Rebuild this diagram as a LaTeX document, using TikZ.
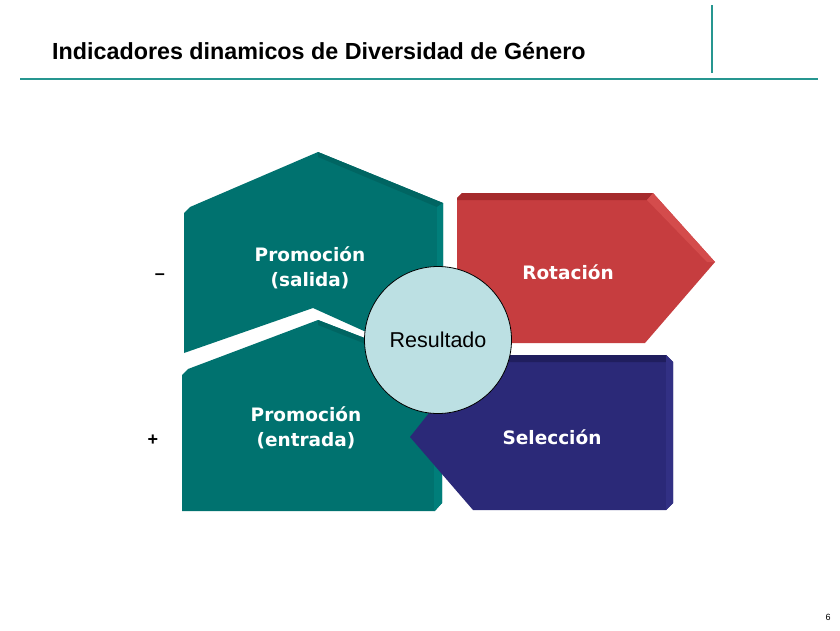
\documentclass[tikz,border=0pt]{standalone}
\usepackage{fontspec}
\setmainfont{Liberation Sans}
\newfontfamily\labfont{DejaVu Sans}
\definecolor{tealmain}{RGB}{0,114,111}
\definecolor{tealdark}{RGB}{0,101,98}
\definecolor{teallight}{RGB}{0,126,122}
\definecolor{redmain}{RGB}{198,61,63}
\definecolor{reddark}{RGB}{165,42,44}
\definecolor{redlight}{RGB}{212,76,76}
\definecolor{navymain}{RGB}{43,41,120}
\definecolor{navydark}{RGB}{32,30,94}
\definecolor{navylight}{RGB}{50,48,132}
\definecolor{circfill}{RGB}{188,224,227}
\definecolor{hdrline}{RGB}{38,150,144}
\tikzset{
  shapelabel/.style={text=white, font=\labfont\bfseries\fontsize{18.5}{25}\selectfont, align=center, inner sep=0pt},
  sidelabel/.style={font=\bfseries\fontsize{18}{20}\selectfont, inner sep=0pt},
  hdr/.style={draw=hdrline, line width=1.6pt},
}
\begin{document}
\begin{tikzpicture}[x=1pt,y=-1pt]
\useasboundingbox (0,0) rectangle (840,630);
\fill[white] (0,0) rectangle (840,630);

% header
\node[anchor=base west, inner sep=0pt, font=\bfseries\fontsize{23.3}{26}\selectfont] (title) at (52,59) {Indicadores dinamicos de Diversidad de Género};
\coordinate (hl) at (20,79);
\coordinate (hm) at (785,79);
\coordinate (hr) at (818,79);
\coordinate (vt) at (712,5);
\coordinate (vb) at (712,73);
\draw[hdr] (hl) -- (hm);
\draw[hdr, line width=2.1pt] (hm) -- (hr);
\draw[hdr] (vt) -- (vb);

% top teal: Promocion (salida)
\fill[tealmain] (184,213) -- (190,207) -- (318,152) -- (443,203) -- (443,345) -- (395,345) -- (313,308) -- (184,353) -- cycle;
\fill[tealdark] (318,152) -- (443,203) -- (437,207) -- (318,157) -- cycle;
\fill[teallight] (437,207) -- (443,203) -- (443,300) -- (437,300) -- cycle;

% bottom teal: Promocion (entrada)
\fill[tealmain] (182,375) -- (188,369) -- (318,320) -- (442,368) -- (442,503) -- (435,511) -- (182,511) -- cycle;
\fill[tealdark] (318,320) -- (442,368) -- (436,372) -- (318,325) -- cycle;
\fill[teallight] (434,372) -- (442,368) -- (442,503) -- (434,511) -- cycle;

% red: Rotacion
\fill[redmain] (457,198) -- (462,193) -- (653,193) -- (715,262) -- (645,343) -- (457,343) -- cycle;
\fill[reddark] (462,193) -- (653,193) -- (647,200) -- (457,200) -- (457,198) -- cycle;
\fill[redlight] (653,193) -- (715,262) -- (707,262) -- (647,200) -- cycle;

% navy: Seleccion
\fill[navymain] (410,437) -- (475,355) -- (666,355) -- (673,362) -- (673,503) -- (666,510) -- (473,510) -- cycle;
\fill[navydark] (475,355) -- (666,355) -- (666,362) -- (470,362) -- cycle;
\fill[navylight] (666,355) -- (673,362) -- (673,503) -- (666,510) -- cycle;

% circle
\node[circle, draw=black, line width=0.8pt, fill=circfill, minimum size=147pt, inner sep=0pt,
      font=\fontsize{21.5}{24}\selectfont] (res) at (438,340) {Resultado};

% labels
\node[shapelabel] (sal) at (310,268) {Promoción\\(salida)};
\node[shapelabel] (rot) at (568,272) {Rotación};
\node[shapelabel] (ent) at (306,428) {Promoción\\(entrada)};
\node[shapelabel] (sel) at (552,437) {Selección};

\node[sidelabel] (minus) at (160,277) {–};
\node[sidelabel] (plus) at (153,440) {+};

\node[inner sep=0pt, font=\fontsize{9}{10}\selectfont] (page) at (828,617) {6};
\end{tikzpicture}
\end{document}
